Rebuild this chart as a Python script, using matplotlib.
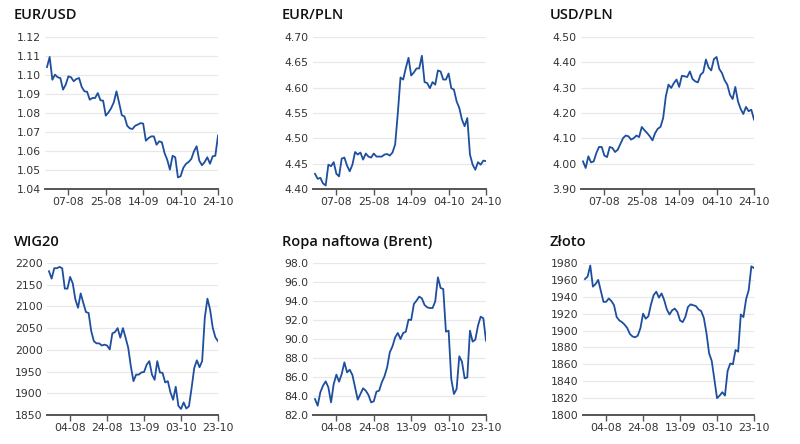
import numpy as np
import pandas as pd
import matplotlib
matplotlib.use('Agg')
import matplotlib.pyplot as plt
from matplotlib.ticker import FormatStrFormatter

# business-day series, first row ends 24-10, second row ends 23-10
dates_fx = pd.bdate_range('2023-07-26', '2023-10-24')
dates_mkt = pd.bdate_range('2023-07-25', '2023-10-23')

eurusd = [1.1042, 1.1095, 1.0975, 1.1002, 1.0988, 1.0984, 1.0923, 1.0949, 1.0993, 1.0988,
          1.0967, 1.0979, 1.0984, 1.0937, 1.0914, 1.0912, 1.0870, 1.0879, 1.0879, 1.0905,
          1.0867, 1.0865, 1.0786, 1.0803, 1.0825, 1.0856, 1.0914, 1.0853, 1.0788, 1.0782,
          1.0733, 1.0719, 1.0716, 1.0733, 1.0739, 1.0747, 1.0744, 1.0654, 1.0668, 1.0677,
          1.0677, 1.0633, 1.0651, 1.0646, 1.0589, 1.0554, 1.0502, 1.0575, 1.0567, 1.0461,
          1.0467, 1.0511, 1.0532, 1.0542, 1.0558, 1.0598, 1.0625, 1.0549, 1.0525, 1.0542,
          1.0567, 1.0533, 1.0572, 1.0575, 1.0681]

eurpln = [4.430, 4.420, 4.422, 4.411, 4.407, 4.448, 4.445, 4.453, 4.430, 4.425,
          4.460, 4.462, 4.446, 4.435, 4.448, 4.473, 4.468, 4.472, 4.458, 4.470,
          4.464, 4.462, 4.470, 4.464, 4.464, 4.464, 4.468, 4.469, 4.466, 4.472,
          4.488, 4.550, 4.620, 4.616, 4.639, 4.659, 4.624, 4.630, 4.638, 4.638,
          4.663, 4.611, 4.609, 4.599, 4.611, 4.606, 4.634, 4.632, 4.616, 4.616,
          4.628, 4.599, 4.596, 4.573, 4.560, 4.537, 4.524, 4.540, 4.468, 4.448,
          4.438, 4.453, 4.448, 4.456, 4.455]

usdpln = [4.009, 3.983, 4.029, 4.005, 4.009, 4.042, 4.066, 4.066, 4.032, 4.026,
          4.066, 4.062, 4.046, 4.055, 4.078, 4.101, 4.111, 4.108, 4.095, 4.101,
          4.111, 4.105, 4.145, 4.132, 4.121, 4.108, 4.092, 4.121, 4.138, 4.145,
          4.180, 4.266, 4.312, 4.299, 4.318, 4.332, 4.303, 4.347, 4.345, 4.342,
          4.364, 4.334, 4.325, 4.321, 4.351, 4.361, 4.411, 4.380, 4.368, 4.413,
          4.421, 4.374, 4.358, 4.329, 4.312, 4.272, 4.255, 4.303, 4.246, 4.216,
          4.196, 4.224, 4.207, 4.213, 4.174]

wig20 = [2181, 2164, 2188, 2188, 2191, 2188, 2141, 2141, 2168, 2153,
         2116, 2097, 2130, 2108, 2087, 2085, 2043, 2020, 2015, 2015,
         2010, 2012, 2010, 2001, 2038, 2041, 2050, 2028, 2050, 2028,
         2005, 1962, 1928, 1943, 1943, 1948, 1949, 1966, 1974, 1943,
         1931, 1974, 1948, 1947, 1925, 1928, 1902, 1885, 1915, 1871,
         1864, 1879, 1865, 1870, 1912, 1958, 1976, 1960, 1974, 2074,
         2118, 2093, 2051, 2029, 2020]

brent = [83.68, 82.98, 84.39, 85.09, 85.54, 84.91, 83.33, 85.26, 86.25, 85.51,
         86.32, 87.54, 86.49, 86.77, 86.21, 84.91, 83.61, 84.21, 84.81, 84.56,
         84.11, 83.33, 83.44, 84.46, 84.56, 85.44, 86.07, 87.02, 88.60, 89.23,
         90.18, 90.63, 90.00, 90.63, 90.77, 92.04, 92.00, 93.68, 94.04, 94.46,
         94.28, 93.58, 93.33, 93.26, 93.26, 93.96, 96.49, 95.37, 95.26, 90.77,
         90.88, 85.79, 84.21, 84.74, 88.18, 87.61, 85.86, 85.96, 90.88, 89.72,
         89.93, 91.40, 92.35, 92.18, 89.82]

zloto = [1961, 1964, 1977, 1952, 1955, 1960, 1947, 1934, 1934, 1938,
         1935, 1930, 1916, 1912, 1910, 1907, 1903, 1896, 1893, 1892,
         1894, 1903, 1920, 1914, 1917, 1931, 1942, 1946, 1939, 1944,
         1936, 1925, 1919, 1924, 1926, 1922, 1912, 1910, 1916, 1928,
         1931, 1930, 1929, 1925, 1923, 1915, 1897, 1873, 1864, 1842,
         1820, 1823, 1827, 1823, 1852, 1861, 1860, 1877, 1875, 1919,
         1916, 1937, 1948, 1976, 1974]

titles = ['EUR/USD', 'EUR/PLN', 'USD/PLN', 'WIG20', 'Ropa naftowa (Brent)', 'Złoto']
series = [eurusd, eurpln, usdpln, wig20, brent, zloto]
date_sets = [dates_fx, dates_fx, dates_fx, dates_mkt, dates_mkt, dates_mkt]
xtick_labels = [['07-08', '25-08', '14-09', '04-10', '24-10']] * 3 + \
               [['04-08', '24-08', '13-09', '03-10', '23-10']] * 3
yticks = [np.arange(1.04, 1.121, 0.01), np.arange(4.40, 4.701, 0.05), np.arange(3.90, 4.501, 0.10),
          np.arange(1850, 2201, 50), np.arange(82, 98.1, 2), np.arange(1800, 1981, 20)]
yfmt = ['%.2f', '%.2f', '%.2f', '%d', '%.1f', '%d']

# axes boxes in pixels: left, right, top, bottom
boxes = [(45, 218, 37, 189), (313, 486, 37, 189), (581, 754, 37, 189),
         (47, 218, 263, 415), (313, 486, 263, 415), (583, 754, 263, 415)]
title_pos = [(14, 15), (282, 15), (550, 15), (14, 242), (282, 242), (550, 242)]

W, H = 800, 444
fig = plt.figure(figsize=(W / 100, H / 100), dpi=100)
fig.patch.set_facecolor('white')

line_color = '#1d4f9e'
text_color = '#333333'

for i in range(6):
    l, r, t, b = boxes[i]
    ax = fig.add_axes([l / W, 1 - b / H, (r - l) / W, (b - t) / H])
    vals = series[i]
    x = np.arange(len(vals))
    ax.plot(x, vals, color=line_color, lw=1.3, solid_joinstyle='round')

    labels = [d.strftime('%d-%m') for d in date_sets[i]]
    pos = [labels.index(s) for s in xtick_labels[i]]
    ax.set_xticks(pos)
    ax.set_xticklabels(xtick_labels[i])
    ax.set_xlim(-0.75, len(vals) - 1)

    yt = yticks[i]
    ax.set_yticks(yt)
    ax.yaxis.set_major_formatter(FormatStrFormatter(yfmt[i]))
    ax.set_ylim(yt[0], yt[-1])

    ax.grid(axis='y', color='#e8e8e8', lw=0.9)
    ax.set_axisbelow(True)
    for s in ['top', 'right', 'left']:
        ax.spines[s].set_visible(False)
    ax.spines['bottom'].set_color('#555555')
    ax.spines['bottom'].set_linewidth(1.4)
    ax.tick_params(axis='y', length=0, pad=3, labelsize=7.8, colors=text_color)
    ax.tick_params(axis='x', length=4, width=1, color='#555555', pad=2,
                   labelsize=7.8, labelcolor=text_color)

    tx, ty = title_pos[i]
    fig.text(tx / W, 1 - ty / H, titles[i], fontsize=10.5, color='#111111',
             ha='left', va='center', family=['Open Sans', 'DejaVu Sans'],
             fontweight='semibold')

fig.savefig('out.png', dpi=100)
